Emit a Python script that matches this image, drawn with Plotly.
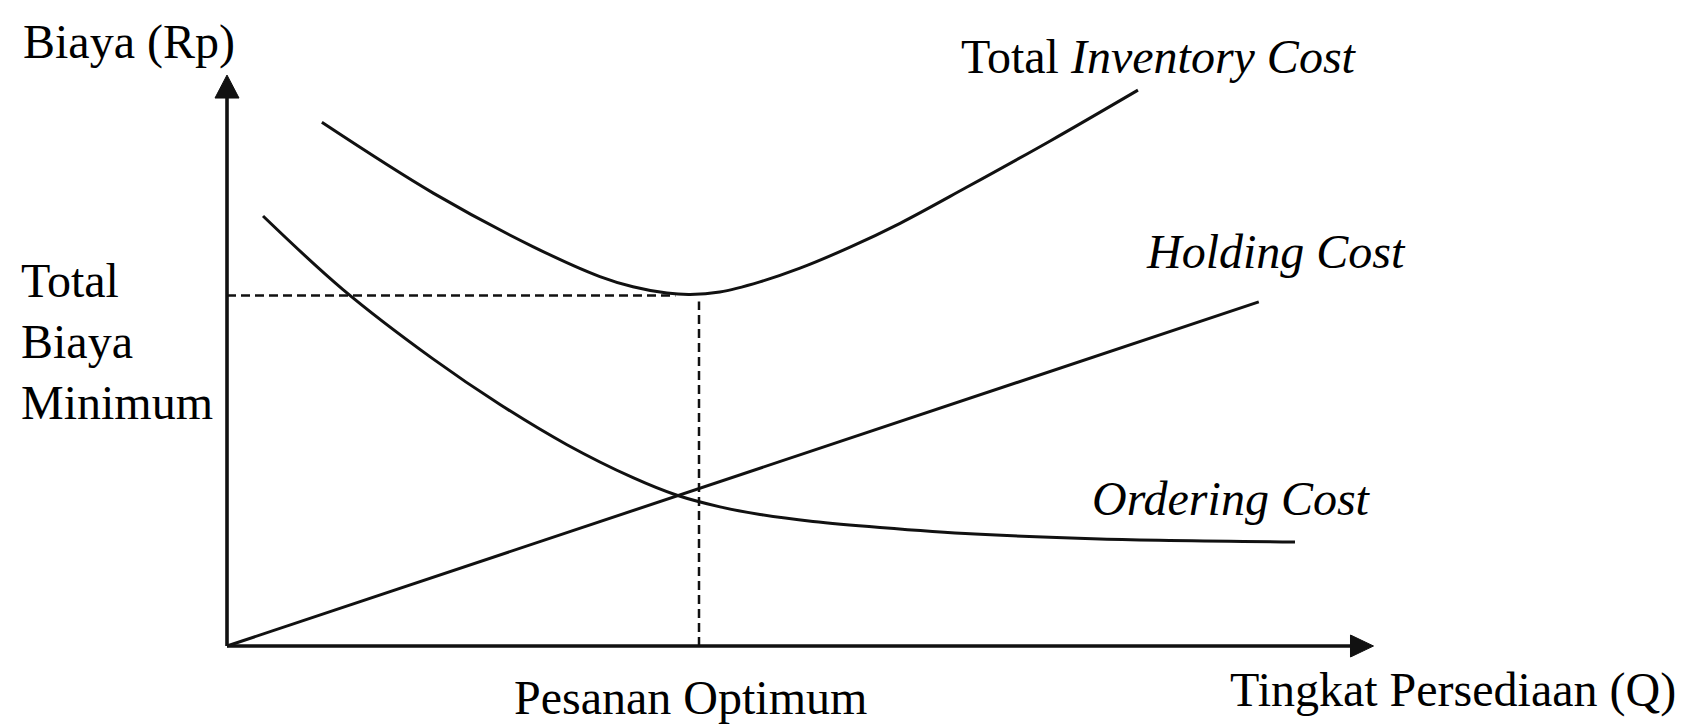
import plotly.graph_objects as go

# ---- data (abstract units: Q = order quantity, C = cost) ----
q_total = [20.1, 43.7, 64.9, 79.0, 86.0, 93.2, 98.1, 104.4, 112.9, 121.4, 132.0, 142.6, 156.6, 174.4, 193.0]
c_total = [149.4, 129.2, 113.9, 105.4, 102.5, 100.7, 100.3, 101.0, 103.9, 107.8, 113.8, 120.6, 130.8, 144.1, 158.6]

q_order = [7.63, 24.58, 43.64, 57.84, 72.03, 86.02, 95.34, 104.45, 112.92, 124.15, 138.35, 158.47, 184.96, 226.27]
c_order = [122.68, 101.68, 81.91, 68.90, 57.43, 48.02, 43.00, 39.69, 37.52, 35.55, 33.84, 31.95, 30.53, 29.67]

q_hold = [0, 218.6]
c_hold = [0, 98.2]

q_opt = 100.0     # Pesanan Optimum
c_min = 100.0     # Total Biaya Minimum

x_axis_end = 242.9
y_axis_end = 162.9

labels = {
    "y_title": "Biaya (Rp)",
    "x_title": "Tingkat Persediaan (Q)",
    "total": "Total <i>Inventory Cost</i>",
    "holding": "<i>Holding Cost</i>",
    "ordering": "<i>Ordering Cost</i>",
    "opt": "Pesanan Optimum",
    "min": ["Total", "Biaya", "Minimum"],
}

# ---- layout geometry ----
PAGE = 8                              # default body margin of the html page
W, H = 1699 - PAGE, 724 - PAGE
PX_Q, PX_C = 4.72, 3.505              # pixels per data unit
OX, OY = 227.0 - PAGE, 646.0 - PAGE   # pixel position of the origin inside the figure
x_range = [(0 - OX) / PX_Q, (W - OX) / PX_Q]
y_range = [(OY - H) / PX_C, OY / PX_C]

INK = "#111111"
FONT = dict(family="Liberation Serif, Times New Roman, serif", size=48, color="#000000")

fig = go.Figure()

line_curve = dict(color=INK, width=3, shape="spline", smoothing=1.0)

fig.add_trace(go.Scatter(x=q_total, y=c_total, mode="lines", line=line_curve, name="Total Inventory Cost"))
fig.add_trace(go.Scatter(x=q_order, y=c_order, mode="lines", line=line_curve, name="Ordering Cost"))
fig.add_trace(go.Scatter(x=q_hold, y=c_hold, mode="lines", line=dict(color=INK, width=3), name="Holding Cost"))

# dashed guides
dash = dict(color=INK, width=2.5, dash="9px,5px")
fig.add_trace(go.Scatter(x=[0, q_opt - 5], y=[c_min, c_min], mode="lines", line=dash, name="min"))
fig.add_trace(go.Scatter(x=[q_opt, q_opt], y=[0, c_min - 1.7], mode="lines", line=dash, name="opt"))

# axes with arrows
ah_len_q = 23 / PX_Q
ah_half_c = 11 / PX_C
ah_len_c = 23 / PX_C
ah_half_q = 12 / PX_Q
axis_line = dict(color=INK, width=3.6)
fig.add_trace(go.Scatter(x=[0, x_axis_end - ah_len_q], y=[0, 0], mode="lines", line=axis_line))
fig.add_trace(go.Scatter(x=[0, 0], y=[0, y_axis_end - ah_len_c], mode="lines", line=axis_line))

fig.add_shape(type="path",
              path=f"M {x_axis_end},0 L {x_axis_end - ah_len_q},{ah_half_c} L {x_axis_end - ah_len_q},{-ah_half_c} Z",
              xref="x", yref="y", fillcolor=INK, line=dict(color=INK, width=1))
fig.add_shape(type="path",
              path=f"M 0,{y_axis_end} L {-ah_half_q},{y_axis_end - ah_len_c} L {ah_half_q},{y_axis_end - ah_len_c} Z",
              xref="x", yref="y", fillcolor=INK, line=dict(color=INK, width=1))


def px(xp, yp):
    # xp, yp: pixel position on the page; convert to figure paper coordinates
    return (xp - PAGE) / W, 1 - (yp - PAGE) / H


def text(t, xp, yp, xanchor="center"):
    x, y = px(xp, yp)
    fig.add_annotation(text=t, x=x, y=y, xref="paper", yref="paper", showarrow=False,
                       xanchor=xanchor, yanchor="middle", font=FONT, align="left", borderpad=0)


text(labels["y_title"], 129, 42)
text(labels["total"], 1159, 57)
text(labels["holding"], 1276, 252)
text(labels["ordering"], 1231, 498)
text(labels["x_title"], 1453, 690)
text(labels["opt"], 690, 697)
for t, yp in zip(labels["min"], [280, 341, 402]):
    text(t, 20, yp, xanchor="left")

fig.update_layout(
    width=W, height=H,
    margin=dict(l=0, r=0, t=0, b=0),
    paper_bgcolor="white", plot_bgcolor="white",
    showlegend=False,
    xaxis=dict(range=x_range, visible=False, fixedrange=True),
    yaxis=dict(range=y_range, visible=False, fixedrange=True),
)

fig.write_html("out.html")
